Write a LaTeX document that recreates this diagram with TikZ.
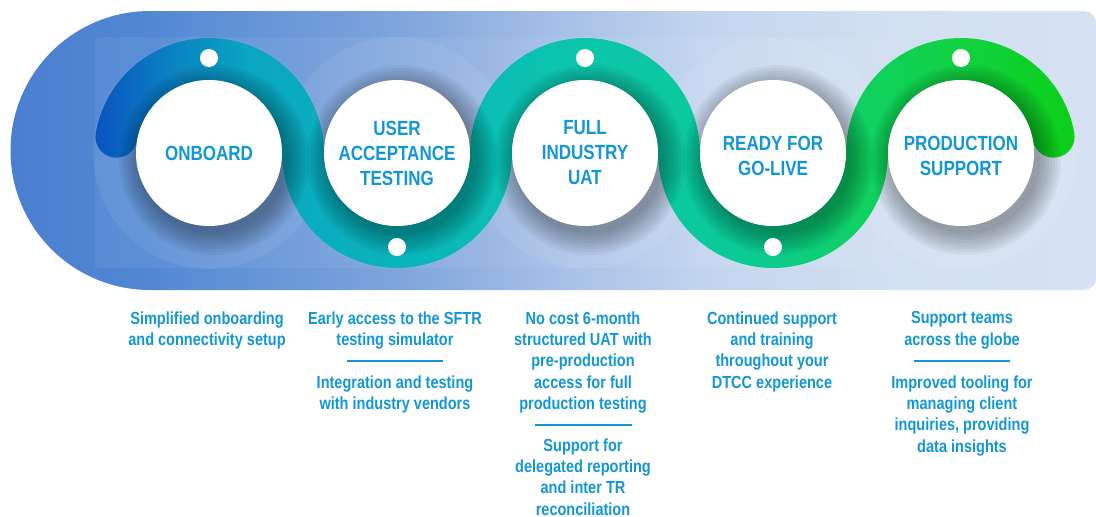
\documentclass[tikz,border=0pt]{standalone}
\usepackage{fontspec}
\newfontfamily\nb{Liberation Sans}[FakeStretch=0.83]
\definecolor{txt}{RGB}{18,150,214}
\definecolor{b0}{HTML}{4A7FCF}
\definecolor{b1}{HTML}{5087D3}
\definecolor{b2}{HTML}{7FA5DC}
\definecolor{b3}{HTML}{A5BFE6}
\definecolor{b4}{HTML}{C3D5EE}
\definecolor{b5}{HTML}{D3E0F2}
\definecolor{b6}{HTML}{D6E2F3}
\definecolor{s0}{HTML}{0A52BF}
\definecolor{s1}{HTML}{0A80C2}
\definecolor{s2}{HTML}{0AA6C2}
\definecolor{s3}{HTML}{09B4BA}
\definecolor{s4}{HTML}{0CC6AB}
\definecolor{s5}{HTML}{0BC99C}
\definecolor{s6}{HTML}{0BCC8C}
\definecolor{s7}{HTML}{0FD062}
\definecolor{s8}{HTML}{10D240}
\definecolor{s9}{HTML}{0CCF18}
\pgfdeclarehorizontalshading{bandshade}{100bp}{color(0bp)=(b0); color(25bp)=(b0); color(31bp)=(b1); color(43bp)=(b2); color(50bp)=(b3); color(57bp)=(b4); color(66bp)=(b5); color(75bp)=(b6); color(100bp)=(b6)}
\pgfdeclarehorizontalshading{snakeshade}{100bp}{color(0bp)=(s0); color(25bp)=(s0); color(28.8bp)=(s1); color(32.9bp)=(s2); color(40.6bp)=(s3); color(50bp)=(s4); color(55.9bp)=(s5); color(59.6bp)=(s6); color(64bp)=(s7); color(69.2bp)=(s8); color(75bp)=(s9); color(100bp)=(s9)}
\tikzset{
  disc/.style={circle, fill=white, minimum size=146pt, inner sep=0pt},
  lbl/.style={font=\nb\bfseries\fontsize{20.5}{25}\selectfont, text=txt, align=center, inner sep=0pt},
  desc/.style={font=\nb\bfseries\fontsize{17.5}{21.3}\selectfont, text=txt, align=center, inner sep=0pt, anchor=north},
  sep/.style={draw=txt, line width=1.4pt},
  dot/.style={circle, fill=white, minimum size=18pt, inner sep=0pt},
  halo/.style={fill=white, opacity=0.07},
}
\begin{document}
\begin{tikzpicture}[x=1pt,y=1pt]
\useasboundingbox (0,0) rectangle (1096,-517);
% background band
\shade[shading=bandshade] (150,-11) -- (1084,-11) arc[start angle=90,end angle=0,radius=12] -- (1096,-278) arc[start angle=0,end angle=-90,radius=12] -- (150,-290) arc[start angle=270,end angle=90,radius=139.5] -- cycle;
\fill[white, opacity=0.06] (95,-37) rectangle (888,-268);
% halos
\foreach \cx in {209,397,585,773,961} {
  \fill[halo] (\cx,-153) circle (116);
}
% snake ribbon
\shade[shading=snakeshade]
  ([shift={(209,-153)}]170:115)
  arc[start angle=170,end angle=0,radius=115]
  arc[start angle=180,end angle=360,radius=73]
  arc[start angle=180,end angle=0,radius=115]
  arc[start angle=180,end angle=360,radius=73]
  arc[start angle=180,end angle=10,radius=115]
  arc[start angle=10,end angle=-170,radius=21]
  arc[start angle=10,end angle=180,radius=73]
  arc[start angle=360,end angle=180,radius=115]
  arc[start angle=0,end angle=180,radius=73]
  arc[start angle=360,end angle=180,radius=115]
  arc[start angle=0,end angle=170,radius=73]
  arc[start angle=-10,end angle=-190,radius=21]
  -- cycle;
% soft shadows
\foreach \cx in {209,397,585,773,961} {
  \foreach \r in {74,77,...,95} {
    \fill[black, opacity=0.045] (\cx+5,-160) circle (\r);
  }
}
% discs
\node[disc] (n1) at (209,-153) {};
\node[disc] (n2) at (397,-153) {};
\node[disc] (n3) at (585,-153) {};
\node[disc] (n4) at (773,-153) {};
\node[disc] (n5) at (961,-153) {};
\node[lbl] (l1) at (n1.center) {ONBOARD};
\node[lbl] (l2) at (n2.center) {USER\\ACCEPTANCE\\TESTING};
\node[lbl] (l3) at (n3.center) {FULL\\INDUSTRY\\UAT};
\node[lbl, yshift=-2.5pt] (l4) at (n4.center) {READY FOR\\GO-LIVE};
\node[lbl, yshift=-2.5pt] (l5) at (n5.center) {PRODUCTION\\SUPPORT};
% dots
\node[dot] (d1) at (209,-58) {};
\node[dot] (d2) at (397,-247) {};
\node[dot] (d3) at (585,-58) {};
\node[dot] (d4) at (773,-247) {};
\node[dot] (d5) at (961,-58) {};
% descriptions
\node[desc] (t1) at (207,-311.5) {Simplified onboarding\\and connectivity setup};
\node[desc] (t2a) at (395,-311.5) {Early access to the SFTR\\testing simulator};
\coordinate (s2a) at (347,-361); \coordinate (s2b) at (443,-361);
\draw[sep] (s2a) -- (s2b);
\node[desc] (t2b) at (395,-375.5) {Integration and testing\\with industry vendors};
\node[desc] (t3a) at (583,-311.5) {No cost 6-month\\structured UAT with\\pre-production\\access for full\\production testing};
\coordinate (s3a) at (535,-425); \coordinate (s3b) at (632,-425);
\draw[sep] (s3a) -- (s3b);
\node[desc] (t3b) at (583,-438.5) {Support for\\delegated reporting\\and inter TR\\reconciliation};
\node[desc] (t4) at (772,-311.5) {Continued support\\and training\\throughout your\\DTCC experience};
\node[desc] (t5a) at (962,-311.5) {Support teams\\across the globe};
\coordinate (s5a) at (914,-361); \coordinate (s5b) at (1010,-361);
\draw[sep] (s5a) -- (s5b);
\node[desc] (t5b) at (962,-375.5) {Improved tooling for\\managing client\\inquiries, providing\\data insights};
\end{tikzpicture}
\end{document}
